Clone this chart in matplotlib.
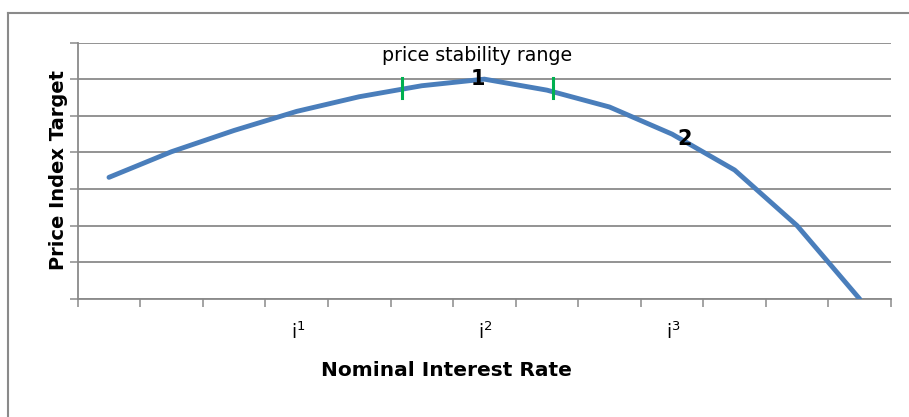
import matplotlib
matplotlib.use("Agg")
import matplotlib.pyplot as plt
from matplotlib.lines import Line2D

# Price index target along the nominal interest rate axis
categories = list(range(13))
price_index = [3.32, 4.02, 4.6, 5.12, 5.52, 5.82, 6.0, 5.7, 5.24, 4.5, 3.52, 2.0, 0.0]
tick_labels = {3: r"$\mathregular{i^1}$", 6: r"$\mathregular{i^2}$", 9: r"$\mathregular{i^3}$"}
stability_bounds = [4.69, 7.1]
point_labels = [("1", 5.89, 6.01), ("2", 9.2, 4.36)]

W, H = 909, 417
fig = plt.figure(figsize=(W / 100, H / 100), dpi=100)
font = ["DejaVu Sans"]
grey = "#8a8a8a"

def px(x, y):
    return x / W, 1 - y / H

ax = fig.add_axes([77.7 / W, 1 - 299 / H, (891 - 77.7) / W, (299 - 42.5) / H])
ax.set_xlim(-0.5, 12.5)
ax.set_ylim(0, 7)

ax.set_yticks(range(8))
ax.set_yticklabels([])
ax.yaxis.grid(True, color=grey, linewidth=1.3)
ax.set_axisbelow(True)
ax.set_xticks([c - 0.5 for c in categories] + [12.5])
ax.set_xticklabels([])
ax.tick_params(axis="both", direction="out", length=6, width=1.1, color=grey)
for s in ("top", "right"):
    ax.spines[s].set_visible(False)
for s in ("left", "bottom"):
    ax.spines[s].set_color(grey)
    ax.spines[s].set_linewidth(1.3)

ax.plot(categories, price_index, color="#4a7ebb", linewidth=3.5,
        solid_capstyle="round", solid_joinstyle="round", zorder=3)

for xb in stability_bounds:
    ax.plot([xb, xb], [5.49, 6.04], color="#00b050", linewidth=2.2, zorder=4)

for txt, xv, yv in point_labels:
    ax.text(xv, yv, txt, ha="center", va="center", fontsize=15,
            fontweight="bold", family=font, zorder=5)

ax.text(5.88, 6.64, "price stability range", ha="center", va="center",
        fontsize=13.7, family=font)

for c, lab in tick_labels.items():
    ax.text(c + 0.02, -0.9, lab, ha="center", va="center", fontsize=13.5, family=font)

fig.text(*px(446, 370), "Nominal Interest Rate", ha="center", va="center",
         fontsize=14.5, fontweight="bold", family=font)
fig.text(*px(59, 170), "Price Index Target", ha="center", va="center",
         rotation=90, fontsize=14, fontweight="bold", family=font)

# chart frame
fig.add_artist(Line2D([8 / W, 8 / W], [0, 1 - 13 / H], transform=fig.transFigure,
                      color=grey, linewidth=1.5))
fig.add_artist(Line2D([8 / W, 1], [1 - 13 / H, 1 - 13 / H], transform=fig.transFigure,
                      color=grey, linewidth=1.5))

fig.savefig("out.png", dpi=100, facecolor="white")
